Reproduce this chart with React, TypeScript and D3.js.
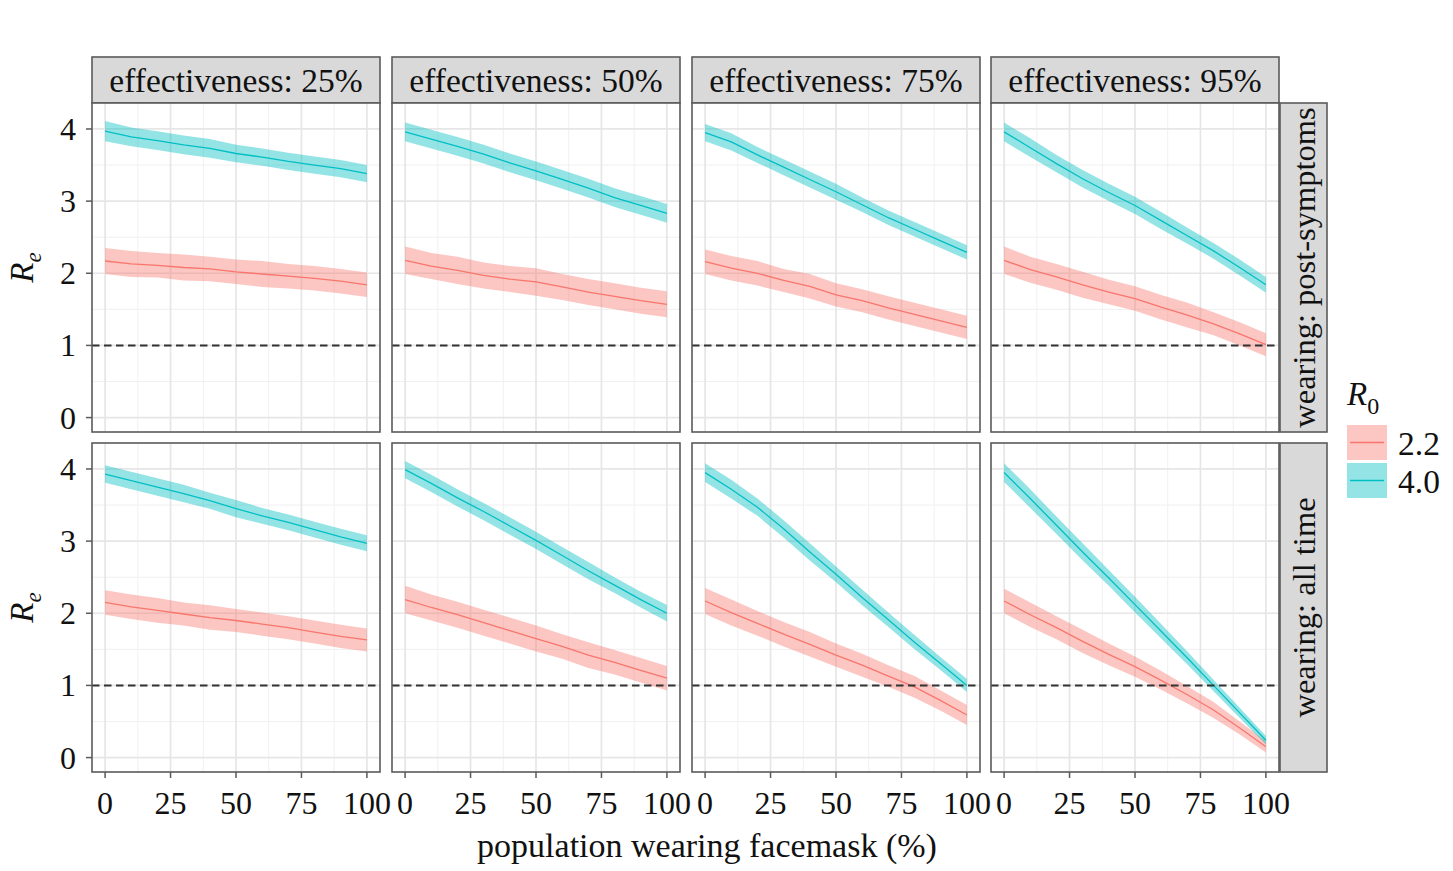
import React from "react";
import * as d3 from "d3";

// ---------- data ----------
const maskPct = [0, 10, 20, 30, 40, 50, 60, 70, 80, 90, 100];
const effectiveness = ["25%", "50%", "75%", "95%"];
const wearing = ["post-symptoms", "all time"];
const r0Labels = ["2.2", "4.0"];
const xTicks = [0, 25, 50, 75, 100];
const yTicks = [0, 1, 2, 3, 4];

// post-symptoms, R0 = 2.2 (mean)
const ps25_r22 = [2.17, 2.13, 2.11, 2.08, 2.06, 2.02, 1.99, 1.96, 1.93, 1.89, 1.84];
const ps50_r22 = [2.18, 2.1, 2.04, 1.97, 1.92, 1.88, 1.81, 1.74, 1.68, 1.62, 1.57];
const ps75_r22 = [2.16, 2.07, 2.0, 1.9, 1.82, 1.7, 1.62, 1.52, 1.43, 1.34, 1.25];
const ps95_r22 = [2.18, 2.05, 1.95, 1.84, 1.74, 1.65, 1.53, 1.42, 1.3, 1.16, 1.01];
// post-symptoms, R0 = 4.0 (mean)
const ps25_r40 = [3.97, 3.89, 3.84, 3.78, 3.73, 3.66, 3.61, 3.55, 3.5, 3.45, 3.38];
const ps50_r40 = [3.96, 3.86, 3.76, 3.65, 3.53, 3.42, 3.3, 3.18, 3.05, 2.94, 2.83];
const ps75_r40 = [3.95, 3.82, 3.64, 3.47, 3.3, 3.13, 2.95, 2.77, 2.61, 2.45, 2.29];
const ps95_r40 = [3.96, 3.74, 3.52, 3.31, 3.12, 2.94, 2.73, 2.52, 2.31, 2.08, 1.84];
// all time, R0 = 2.2 (mean)
const at25_r22 = [2.15, 2.09, 2.04, 1.99, 1.94, 1.9, 1.85, 1.8, 1.74, 1.68, 1.63];
const at50_r22 = [2.19, 2.08, 1.98, 1.87, 1.76, 1.65, 1.54, 1.42, 1.32, 1.21, 1.1];
const at75_r22 = [2.17, 2.01, 1.86, 1.71, 1.57, 1.42, 1.28, 1.13, 0.98, 0.79, 0.59];
const at95_r22 = [2.17, 1.98, 1.8, 1.61, 1.43, 1.26, 1.07, 0.87, 0.66, 0.41, 0.15];
// all time, R0 = 4.0 (mean)
const at25_r40 = [3.93, 3.84, 3.75, 3.66, 3.56, 3.45, 3.35, 3.26, 3.16, 3.06, 2.97];
const at50_r40 = [3.99, 3.8, 3.6, 3.41, 3.21, 3.01, 2.8, 2.59, 2.39, 2.19, 2.0];
const at75_r40 = [3.95, 3.72, 3.47, 3.17, 2.85, 2.54, 2.22, 1.91, 1.6, 1.3, 1.0];
const at95_r40 = [3.95, 3.59, 3.22, 2.85, 2.49, 2.12, 1.75, 1.38, 1.0, 0.62, 0.24];

// ribbon half-widths
const ps25_r22_band = [0.18, 0.18, 0.17, 0.18, 0.17, 0.17, 0.18, 0.17, 0.17, 0.17, 0.17];
const ps50_r22_band = [0.19, 0.18, 0.19, 0.18, 0.18, 0.19, 0.18, 0.18, 0.18, 0.18, 0.18];
const ps75_r22_band = [0.17, 0.17, 0.17, 0.16, 0.17, 0.16, 0.16, 0.16, 0.16, 0.16, 0.16];
const ps95_r22_band = [0.19, 0.18, 0.18, 0.18, 0.17, 0.17, 0.17, 0.17, 0.16, 0.16, 0.16];
const ps25_r40_band = [0.14, 0.13, 0.13, 0.13, 0.13, 0.12, 0.12, 0.12, 0.12, 0.12, 0.12];
const ps50_r40_band = [0.13, 0.13, 0.13, 0.13, 0.13, 0.13, 0.13, 0.13, 0.13, 0.13, 0.13];
const ps75_r40_band = [0.12, 0.12, 0.11, 0.11, 0.11, 0.11, 0.1, 0.1, 0.1, 0.1, 0.1];
const ps95_r40_band = [0.13, 0.13, 0.12, 0.12, 0.12, 0.12, 0.12, 0.11, 0.11, 0.11, 0.11];
const at25_r22_band = [0.17, 0.17, 0.17, 0.16, 0.17, 0.16, 0.16, 0.16, 0.16, 0.16, 0.16];
const at50_r22_band = [0.19, 0.18, 0.18, 0.18, 0.18, 0.18, 0.17, 0.18, 0.17, 0.17, 0.17];
const at75_r22_band = [0.18, 0.18, 0.17, 0.17, 0.17, 0.16, 0.16, 0.15, 0.15, 0.14, 0.14];
const at95_r22_band = [0.17, 0.17, 0.16, 0.16, 0.15, 0.14, 0.13, 0.12, 0.11, 0.09, 0.08];
const at25_r40_band = [0.12, 0.12, 0.12, 0.12, 0.11, 0.12, 0.11, 0.11, 0.11, 0.11, 0.11];
const at50_r40_band = [0.12, 0.12, 0.12, 0.12, 0.12, 0.12, 0.12, 0.12, 0.11, 0.11, 0.115];
const at75_r40_band = [0.13, 0.13, 0.12, 0.12, 0.12, 0.11, 0.11, 0.1, 0.1, 0.09, 0.09];
const at95_r40_band = [0.13, 0.13, 0.12, 0.12, 0.11, 0.11, 0.1, 0.09, 0.08, 0.07, 0.06];

const meanGrid = [
  [
    [ps25_r22, ps25_r40],
    [ps50_r22, ps50_r40],
    [ps75_r22, ps75_r40],
    [ps95_r22, ps95_r40],
  ],
  [
    [at25_r22, at25_r40],
    [at50_r22, at50_r40],
    [at75_r22, at75_r40],
    [at95_r22, at95_r40],
  ],
];
const bandGrid = [
  [
    [ps25_r22_band, ps25_r40_band],
    [ps50_r22_band, ps50_r40_band],
    [ps75_r22_band, ps75_r40_band],
    [ps95_r22_band, ps95_r40_band],
  ],
  [
    [at25_r22_band, at25_r40_band],
    [at50_r22_band, at50_r40_band],
    [at75_r22_band, at75_r40_band],
    [at95_r22_band, at95_r40_band],
  ],
];

// ---------- style / layout ----------
const COLORS = ["#F8766D", "#00BFC4"];
const FONT = "'Liberation Serif', 'Times New Roman', serif";
const FS = 32;
const colX = [92, 392, 692, 991];
const PW = 288;
const rowY = [103, 443];
const PH = 329;
const STRIP_TOP = 57;
const STRIP_RX = 1280;
const STRIP_W = 47;
const BORDER = "#5a5a5a";

const x = d3.scaleLinear().domain([-5, 105]).range([0, PW]);
const y = d3.scaleLinear().domain([-0.2, 4.36]).range([PH, 0]);

const xMinor = [12.5, 37.5, 62.5, 87.5];
const yMinor = [0.5, 1.5, 2.5, 3.5];

function Panel({ r, c }: { r: number; c: number }) {
  const tx = colX[c];
  const ty = rowY[r];
  const clipId = `clip-${r}-${c}`;
  return (
    <g transform={`translate(${tx},${ty})`}>
      <defs>
        <clipPath id={clipId}>
          <rect x={0} y={0} width={PW} height={PH} />
        </clipPath>
      </defs>
      <rect x={0} y={0} width={PW} height={PH} fill="#fff" />
      {xMinor.map((v) => (
        <line key={"xm" + v} x1={x(v)} x2={x(v)} y1={0} y2={PH} stroke="#f0f0f0" strokeWidth={1} />
      ))}
      {yMinor.map((v) => (
        <line key={"ym" + v} x1={0} x2={PW} y1={y(v)} y2={y(v)} stroke="#f0f0f0" strokeWidth={1} />
      ))}
      {xTicks.map((v) => (
        <line key={"xM" + v} x1={x(v)} x2={x(v)} y1={0} y2={PH} stroke="#e6e6e6" strokeWidth={1.7} />
      ))}
      {yTicks.map((v) => (
        <line key={"yM" + v} x1={0} x2={PW} y1={y(v)} y2={y(v)} stroke="#e6e6e6" strokeWidth={1.7} />
      ))}
      <g clipPath={`url(#${clipId})`}>
        {[0, 1].map((s) => {
          const mean = meanGrid[r][c][s];
          const band = bandGrid[r][c][s];
          const pts = maskPct.map((p, i) => ({ p, m: mean[i], b: band[i] }));
          const area = d3
            .area<any>()
            .x((d) => x(d.p))
            .y0((d) => y(d.m - d.b))
            .y1((d) => y(d.m + d.b));
          const line = d3
            .line<any>()
            .x((d) => x(d.p))
            .y((d) => y(d.m));
          return (
            <g key={s}>
              <path d={area(pts) || ""} fill={COLORS[s]} fillOpacity={0.42} stroke="none" />
              <path d={line(pts) || ""} fill="none" stroke={COLORS[s]} strokeWidth={1.3} />
            </g>
          );
        })}
      </g>
      <line
        x1={0}
        x2={PW}
        y1={y(1)}
        y2={y(1)}
        stroke="#333"
        strokeWidth={2}
        strokeDasharray="7.5,4.5"
      />
      <rect x={0} y={0} width={PW} height={PH} fill="none" stroke={BORDER} strokeWidth={1.6} />
      {r === 1 &&
        xTicks.map((v) => (
          <g key={"xt" + v}>
            <line x1={x(v)} x2={x(v)} y1={PH} y2={PH + 6} stroke={BORDER} strokeWidth={1.5} />
            <text
              x={x(v)}
              y={PH + 42}
              textAnchor="middle"
              fontFamily={FONT}
              fontSize={FS}
              fill="#111"
            >
              {v}
            </text>
          </g>
        ))}
      {c === 0 &&
        yTicks.map((v) => (
          <g key={"yt" + v}>
            <line x1={-6} x2={0} y1={y(v)} y2={y(v)} stroke={BORDER} strokeWidth={1.5} />
            <text
              x={-16}
              y={y(v) + 11}
              textAnchor="end"
              fontFamily={FONT}
              fontSize={FS}
              fill="#111"
            >
              {v}
            </text>
          </g>
        ))}
    </g>
  );
}

export default function App() {
  return (
    <svg width={1453} height={871} style={{ display: "block", position: "absolute", left: 0, top: 0 }}>
      <rect x={0} y={0} width={1453} height={871} fill="#fff" />
      {/* column strips */}
      {effectiveness.map((e, c) => (
        <g key={"cs" + c}>
          <rect
            x={colX[c]}
            y={STRIP_TOP}
            width={PW}
            height={rowY[0] - STRIP_TOP}
            fill="#d9d9d9"
            stroke={BORDER}
            strokeWidth={1.6}
          />
          <text
            x={colX[c] + PW / 2}
            y={STRIP_TOP + 35}
            textAnchor="middle"
            fontFamily={FONT}
            fontSize={33.5}
            fill="#111"
          >
            {`effectiveness: ${e}`}
          </text>
        </g>
      ))}
      {/* row strips */}
      {wearing.map((w, r) => (
        <g key={"rs" + r}>
          <rect
            x={STRIP_RX}
            y={rowY[r]}
            width={STRIP_W}
            height={PH}
            fill="#d9d9d9"
            stroke={BORDER}
            strokeWidth={1.6}
          />
          <text
            transform={`translate(${STRIP_RX + 35},${rowY[r] + PH / 2}) rotate(-90)`}
            textAnchor="middle"
            fontFamily={FONT}
            fontSize={32.5}
            fill="#111"
          >
            {`wearing: ${w}`}
          </text>
        </g>
      ))}
      {[0, 1].map((r) =>
        [0, 1, 2, 3].map((c) => <Panel key={`${r}-${c}`} r={r} c={c} />)
      )}
      {/* y axis titles */}
      {[0, 1].map((r) => (
        <text
          key={"yt" + r}
          transform={`translate(33,${rowY[r] + PH / 2}) rotate(-90)`}
          textAnchor="middle"
          fontFamily={FONT}
          fontSize={33}
          fill="#111"
        >
          <tspan fontStyle="italic">R</tspan>
          <tspan fontStyle="italic" fontSize={23} dy={8}>
            e
          </tspan>
        </text>
      ))}
      {/* x axis title */}
      <text
        x={707}
        y={857}
        textAnchor="middle"
        fontFamily={FONT}
        fontSize={34}
        fill="#111"
      >
        population wearing facemask (%)
      </text>
      {/* legend */}
      <text x={1347} y={405} fontFamily={FONT} fontSize={33} fill="#111">
        <tspan fontStyle="italic">R</tspan>
        <tspan fontSize={24} dy={9}>
          0
        </tspan>
      </text>
      {r0Labels.map((lab, i) => {
        const ky = 425 + i * 38;
        return (
          <g key={"lg" + i}>
            <rect x={1347} y={ky} width={40} height={35} fill={COLORS[i]} fillOpacity={0.42} />
            <line x1={1350} x2={1384} y1={ky + 17.5} y2={ky + 17.5} stroke={COLORS[i]} strokeWidth={1.5} />
            <text x={1398} y={ky + 30} fontFamily={FONT} fontSize={33.5} fill="#111">
              {lab}
            </text>
          </g>
        );
      })}
    </svg>
  );
}
